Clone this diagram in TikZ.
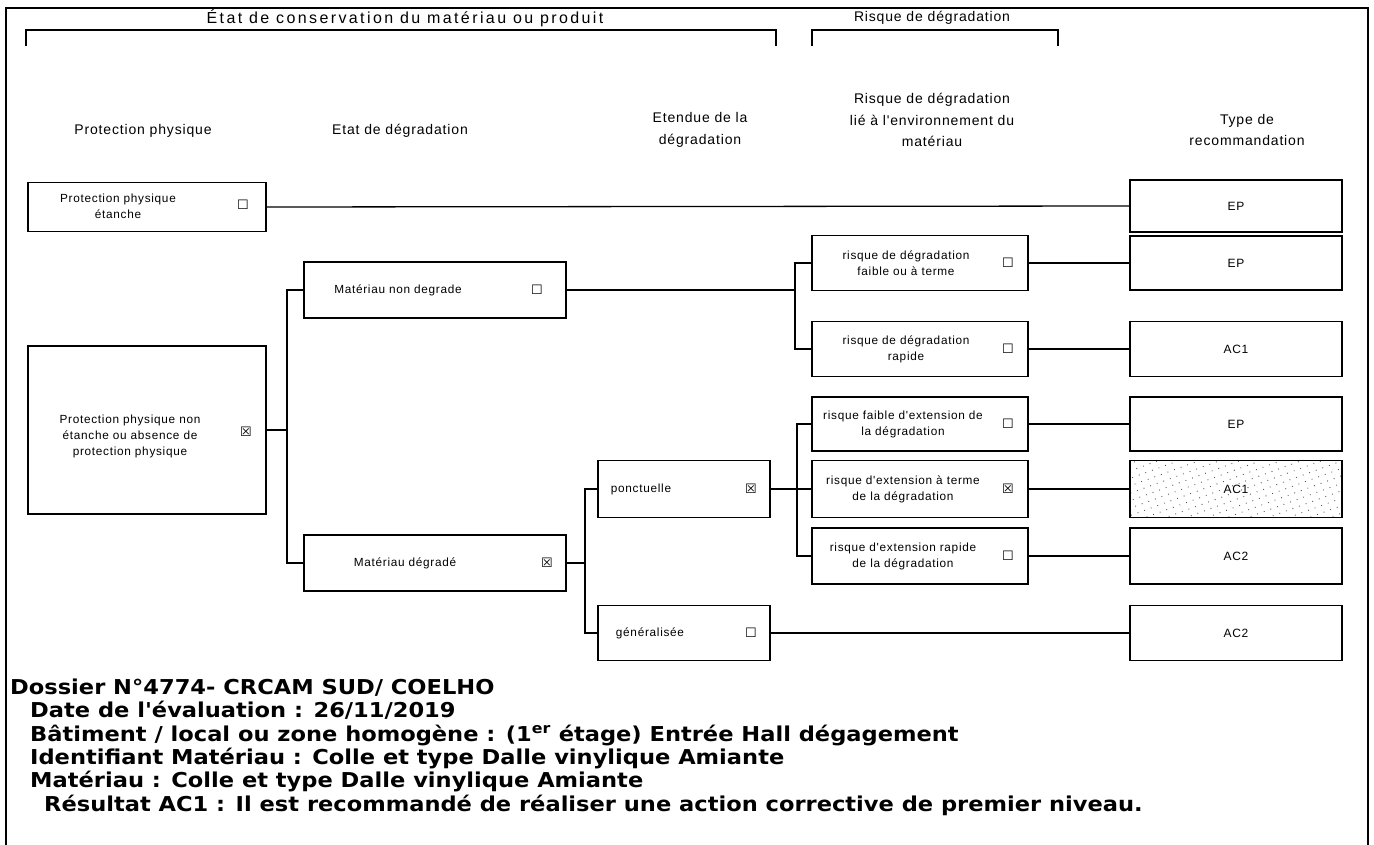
\documentclass[tikz,border=0pt]{standalone}
\usepackage{fontspec}
\setmainfont{Liberation Sans}
\newfontfamily\dg[LetterSpace=6]{Liberation Sans}
\newfontfamily\dgw[LetterSpace=15]{Liberation Sans}
\newfontfamily\bt[FakeStretch=1.1]{DejaVu Sans}
\newfontfamily\symf{DejaVu Sans}
\usetikzlibrary{patterns.meta}
\begin{document}
\begin{tikzpicture}[x=1pt,y=-1pt,
 box/.style={draw, line width=1.5pt, inner sep=0pt},
 conn/.style={line width=1.3pt},
 lbl/.style={font=\dg\fontsize{11.8}{16}\selectfont, align=center, inner sep=0pt},
 hdr/.style={font=\dg\fontsize{14}{21.5}\selectfont, align=center, inner sep=0pt},
 tick/.style={font=\symf\fontsize{13}{13}\selectfont, inner sep=0pt},
 rec/.style={font=\dg\fontsize{12}{14}\selectfont, inner sep=0pt},
 foot/.style={font=\bt\bfseries\fontsize{20.5}{24}\selectfont, anchor=base west, inner sep=0pt}
]
\useasboundingbox (0,0) rectangle (1374,845);
% frame
\draw[line width=1.2pt] (6,845) -- (6,8) -- (1368,8) -- (1368,845);
% brackets
\draw[conn] (26,46) -- (26,30) -- (776,30) -- (776,46);
\draw[conn] (812,46) -- (812,30) -- (1058,30) -- (1058,46);
\node[hdr, font=\dgw\fontsize{16}{18}\selectfont] (t1) at (405,18) {État de conservation du matériau ou produit};
\node[hdr] (t2) at (932,18) {Risque de dégradation};
% column headers
\node[hdr] (h1) at (143,131) {Protection physique};
\node[hdr] (h2) at (400,131) {Etat de dégradation};
\node[hdr] (h3) at (700,130) {Etendue de la\\dégradation};
\node[hdr] (h4) at (932,120) {Risque de dégradation\\lié à l'environnement du\\matériau};
\node[hdr] (h5) at (1247,130) {Type de\\recommandation};
% level 1
\node[box, minimum width=238, minimum height=49] (pe) at (147,207) {};
\node[lbl] (pet) at (118,206) {Protection physique\\étanche};
\node[tick] (pes) at (243,205) {☐};
\node[box, minimum width=238, minimum height=168] (pn) at (147,430) {};
\node[lbl] (pnt) at (130,436) {Protection physique non\\étanche ou absence de\\protection physique};
\node[tick] (pns) at (246,432) {☒};
% level 2
\node[box, minimum width=262, minimum height=56] (mn) at (435,290) {};
\node[lbl] (mnt) at (398,290) {Matériau non degrade};
\node[tick] (mns) at (537,290) {☐};
\node[box, minimum width=262, minimum height=56] (md) at (435,563) {};
\node[lbl] (mdt) at (405,563) {Matériau dégradé};
\node[tick] (mds) at (547,563) {☒};
% level 3
\node[box, minimum width=172, minimum height=57] (po) at (684,489) {};
\node[lbl] (pot) at (641,489) {ponctuelle};
\node[tick] (pos) at (751,489) {☒};
\node[box, minimum width=172, minimum height=55] (ge) at (684,633) {};
\node[lbl] (get) at (650,633) {généralisée};
\node[tick] (ges) at (751,633) {☐};
% level 4
\node[box, minimum width=216, minimum height=55] (r1) at (920,263) {};
\node[lbl] (r1t) at (906,263) {risque de dégradation\\faible ou à terme};
\node[tick] (r1s) at (1008,263) {☐};
\node[box, minimum width=216, minimum height=55] (r2) at (920,349) {};
\node[lbl] (r2t) at (906,349) {risque de dégradation\\rapide};
\node[tick] (r2s) at (1008,349) {☐};
\node[box, minimum width=216, minimum height=54] (r3) at (920,424) {};
\node[lbl] (r3t) at (903,424) {risque faible d'extension de\\la dégradation};
\node[tick] (r3s) at (1008,424) {☐};
\node[box, minimum width=216, minimum height=57] (r4) at (920,489) {};
\node[lbl] (r4t) at (903,489) {risque d'extension à terme\\de la dégradation};
\node[tick] (r4s) at (1008,489) {☒};
\node[box, minimum width=216, minimum height=56] (r5) at (920,556) {};
\node[lbl] (r5t) at (903,556) {risque d'extension rapide\\de la dégradation};
\node[tick] (r5s) at (1008,556) {☐};
% recommendations
\node[box, minimum width=212, minimum height=52] (e1) at (1236,206) {};
\node[rec] (e1t) at (1236,206) {EP};
\node[box, minimum width=212, minimum height=54] (e2) at (1236,263) {};
\node[rec] (e2t) at (1236,263) {EP};
\node[box, minimum width=212, minimum height=55] (e3) at (1236,349) {};
\node[rec] (e3t) at (1236,349) {AC1};
\node[box, minimum width=212, minimum height=54] (e4) at (1236,424) {};
\node[rec] (e4t) at (1236,424) {EP};
\node[box, minimum width=212, minimum height=57, pattern={Dots[distance=7pt, radius=0.6pt, angle=20]}, pattern color=black!70] (e5) at (1236,489) {};
\node[rec] (e5t) at (1236,489) {AC1};
\node[box, minimum width=212, minimum height=56] (e6) at (1236,556) {};
\node[rec] (e6t) at (1236,556) {AC2};
\node[box, minimum width=212, minimum height=55] (e7) at (1236,633) {};
\node[rec] (e7t) at (1236,633) {AC2};
% junction x positions
\coordinate (j1) at (287,0);
\coordinate (j2) at (585,0);
\coordinate (j3) at (795,0);
\coordinate (j4) at (797,0);
% connectors
\draw[conn] (pe.east) -- (e1.west);
\draw[conn] (pn.east) -- (pn.east -| j1);
\draw[conn] (mn.west) -- (mn.west -| j1) -- (md.west -| j1) -- (md.west);
\draw[conn] (md.east) -- (md.east -| j2);
\draw[conn] (po.west) -- (po.west -| j2) -- (ge.west -| j2) -- (ge.west);
\draw[conn] (mn.east) -- (mn.east -| j3);
\draw[conn] (r1.west) -- (r1.west -| j3) -- (r2.west -| j3) -- (r2.west);
\draw[conn] (po.east) -- (r4.west);
\draw[conn] (r3.west) -- (r3.west -| j4) -- (r5.west -| j4) -- (r5.west);
\draw[conn] (r1.east) -- (e2.west);
\draw[conn] (r2.east) -- (e3.west);
\draw[conn] (r3.east) -- (e4.west);
\draw[conn] (r4.east) -- (e5.west);
\draw[conn] (r5.east) -- (e6.west);
\draw[conn] (ge.east) -- (e7.west);
% footer
\node[foot] (f1) at (10,694) {Dossier N°4774- CRCAM SUD/ COELHO};
\node[foot] (f2) at (30,717) {Date de l'évaluation : 26/11/2019};
\node[foot] (f3) at (30,741) {Bâtiment / local ou zone homogène : (1\textsuperscript{er} étage) Entrée Hall dégagement};
\node[foot] (f4) at (30,764) {Identifiant Matériau : Colle et type Dalle vinylique Amiante};
\node[foot] (f5) at (30,787) {Matériau : Colle et type Dalle vinylique Amiante};
\node[foot] (f6) at (44,811) {Résultat AC1 : Il est recommandé de réaliser une action corrective de premier niveau.};
\end{tikzpicture}
\end{document}
